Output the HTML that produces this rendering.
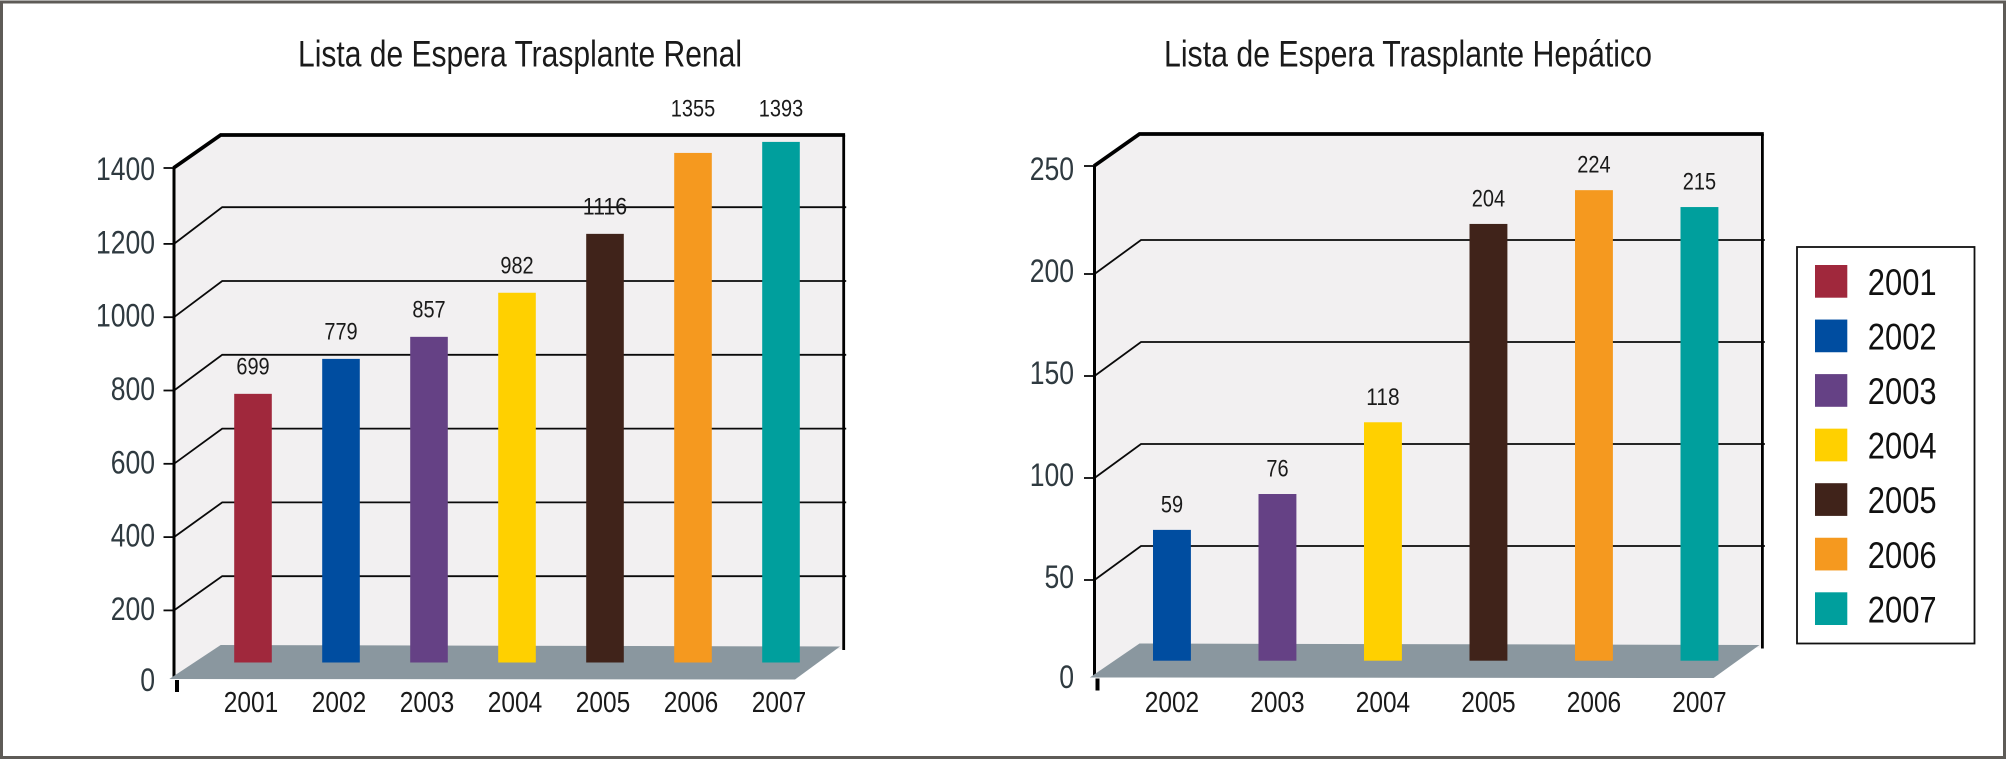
<!DOCTYPE html>
<html lang="es">
<head>
<meta charset="utf-8">
<title>Lista de Espera Trasplante</title>
<style>
html,body{margin:0;padding:0;background:#fff;width:2008px;height:760px;overflow:hidden}
svg{display:block;font-family:"Liberation Sans",sans-serif}
</style>
</head>
<body>
<svg id="chart" xmlns="http://www.w3.org/2000/svg" width="2008" height="760" viewBox="0 0 2008 760">
  <rect x="1.5" y="2" width="2003" height="755.5" fill="#fff" stroke="#5e5b57" stroke-width="3"/>
  <text x="298" y="66.5" font-size="37" fill="#1a1a1a" textLength="444" lengthAdjust="spacingAndGlyphs">Lista de Espera Trasplante Renal</text>
  <text x="1164" y="66.5" font-size="37" fill="#1a1a1a" textLength="488" lengthAdjust="spacingAndGlyphs">Lista de Espera Trasplante Hepático</text>
  <g id="renal"></g>
  <g id="hepatic"></g>
  <g id="legend"></g>
</svg>
<script>
// Legend / colour data
const legendYears = ['2001', '2002', '2003', '2004', '2005', '2006', '2007'];
const yearColors = ['#a0283c', '#004da0', '#654185', '#ffd000', '#40231a', '#f5991f', '#009f9d'];

// Renal chart data
const renalYears = ['2001', '2002', '2003', '2004', '2005', '2006', '2007'];
const renalBarValues = [707, 799, 857, 973, 1128, 1341, 1370];
const renalPrintedValues = ['699', '779', '857', '982', '1116', '1355', '1393'];
const renalTicks = [0, 200, 400, 600, 800, 1000, 1200, 1400];

// Hepatic chart data
const hepaticYears = ['2002', '2003', '2004', '2005', '2006', '2007'];
const hepaticBarValues = [62, 79, 113, 207, 223, 215];
const hepaticPrintedValues = ['59', '76', '118', '204', '224', '215'];
const hepaticTicks = [0, 50, 100, 150, 200, 250];

const NS = 'http://www.w3.org/2000/svg';
function mk(tag, attrs, parent, text) {
  const el = document.createElementNS(NS, tag);
  for (const k in attrs) el.setAttribute(k, attrs[k]);
  if (text !== undefined) el.textContent = text;
  parent.appendChild(el);
  return el;
}
function digits(parent, str, x, y, size, perDigit, anchor, fill) {
  return mk('text', {
    x: x, y: y, 'font-size': size, fill: fill, 'text-anchor': anchor,
    textLength: (str.length * perDigit).toFixed(1), lengthAdjust: 'spacingAndGlyphs'
  }, parent, str);
}
function colorOf(year) {
  return yearColors[legendYears.indexOf(year)];
}

function drawChart(root, years, barValues, printed, ticks, g) {
  const maxTick = ticks[ticks.length - 1];
  const frontY = v => g.front0 - v * g.frontK;
  const backY = v => g.back0 - v * g.backK;
  const barY = v => g.barBase - v * g.barK;
  const barX = i => g.barX0 + i * g.barStep;
  const topFront = frontY(maxTick) - g.topAdjust;

  const wall = mk('polygon', {
    points: [[g.axisX, topFront], [g.backX, g.backTop], [g.rightX, g.backTop], [g.rightX, g.floorBackY + 4], [g.axisX, g.floorFrontY]].join(' '),
    fill: '#f2f0f1'
  }, root);
  
  

  ticks.forEach(t => {
    if (t > 0 && t < maxTick) {
      const grid = mk('polyline', {
        points: [[g.axisX, frontY(t)], [g.backX + 1.5, backY(t)], [g.rightX + 2.5, backY(t)]].join(' '),
        fill: 'none', stroke: '#0a0a0a', 'stroke-width': 1.8
      }, root);
      
      
    }
    if (t > 0) {
      const tick = mk('line', {
        x1: g.axisX - 10.5, x2: g.axisX, y1: frontY(t) - (t === maxTick ? g.topAdjust : 0), y2: frontY(t) - (t === maxTick ? g.topAdjust : 0),
        stroke: '#0a0a0a', 'stroke-width': 1.8
      }, root);
      
      
    }
    const zeroLift = t === 0 ? 2 : 0;
    const lab = digits(root, String(t), g.tickLabelX, frontY(t) + g.tickLabelDy - zeroLift, 32, 14.75, 'end', '#2f3a40');
    
    
  });

  const right = mk('line', {
    x1: g.rightX, x2: g.rightX, y1: g.backTop, y2: g.floorBackY + 5,
    stroke: '#000', 'stroke-width': 2.8
  }, root);
  
  

  const axis = mk('line', {
    x1: g.axisX, x2: g.axisX, y1: topFront, y2: g.floorFrontY,
    stroke: '#000', 'stroke-width': 3
  }, root);
  
  

  const foot = mk('line', {
    x1: g.axisX + 3, x2: g.axisX + 3, y1: g.floorFrontY + 1, y2: g.floorFrontY + 13,
    stroke: '#000', 'stroke-width': 4
  }, root);
  
  

  const floor = mk('polygon', {
    points: [[g.axisX - 4.7, g.floorFrontY], [g.backX, g.floorBackY], [g.floorBackRightX, g.floorBackY + 1.5], [g.floorFrontRightX, g.floorFrontY + 0.5]].join(' '),
    fill: '#8a979f'
  }, root);
  
  

  const frame = mk('polyline', {
    points: [[g.axisX - 0.5, topFront], [g.backX, g.backTop], [g.rightX + 1.4, g.backTop]].join(' '),
    fill: 'none', stroke: '#000', 'stroke-width': 3.8
  }, root);
  
  

  years.forEach((year, i) => {
    const top = barY(barValues[i]);
    const bar = mk('rect', {
      x: barX(i), y: top, width: g.barW, height: g.barBase - top, fill: colorOf(year)
    }, root);
    
    

    const cx = barX(i) + g.barW / 2;
    const labelCentre = top < g.backTop + 25 ? g.backTop - 27 : top - g.labelGap;
    const val = digits(root, printed[i], cx, labelCentre + 8.5, 24, 11.1, 'middle', '#1a1a1a');
    
    

    const cat = digits(root, year, cx + g.catDx, 712, 29, 13.6, 'middle', '#1a1a1a');
    
    
  });
}

drawChart(document.getElementById('renal'), renalYears, renalBarValues, renalPrintedValues, renalTicks, {
  axisX: 174, backX: 220.7, rightX: 843.7, backTop: 135,
  floorFrontY: 679, floorBackY: 645, floorBackRightX: 840, floorFrontRightX: 795,
  front0: 683.7, frontK: 0.3665, back0: 650, backK: 0.369, topAdjust: 2.6,
  barBase: 662.5, barK: 0.38, barX0: 234.2, barStep: 88, barW: 37.6,
  tickLabelX: 155, tickLabelDy: 9.5, labelGap: 28, catDx: -2
});

drawChart(document.getElementById('hepatic'), hepaticYears, hepaticBarValues, hepaticPrintedValues, hepaticTicks, {
  axisX: 1094.5, backX: 1139.5, rightX: 1762.4, backTop: 134,
  floorFrontY: 677.5, floorBackY: 643.5, floorBackRightX: 1759.5, floorFrontRightX: 1713.6,
  front0: 682, frontK: 2.04, back0: 648, backK: 2.04, topAdjust: 6,
  barBase: 660.7, barK: 2.11, barX0: 1153, barStep: 105.5, barW: 37.9,
  tickLabelX: 1074, tickLabelDy: 8, labelGap: 26, catDx: 0
});

const legendRoot = document.getElementById('legend');
const legendBox = mk('rect', {
  x: 1797, y: 247, width: 177.5, height: 396.5, fill: '#fff', stroke: '#111', 'stroke-width': 1.8
}, legendRoot);


legendYears.forEach((year, i) => {
  const y = 265 + i * 54.55;
  const swatch = mk('rect', { x: 1815, y: y, width: 32.3, height: 32.7, fill: yearColors[i] }, legendRoot);
  
  
  const label = digits(legendRoot, year, 1867.8, y + 30, 37, 17.2, 'start', '#111');
  
  
});
</script>
</body>
</html>
